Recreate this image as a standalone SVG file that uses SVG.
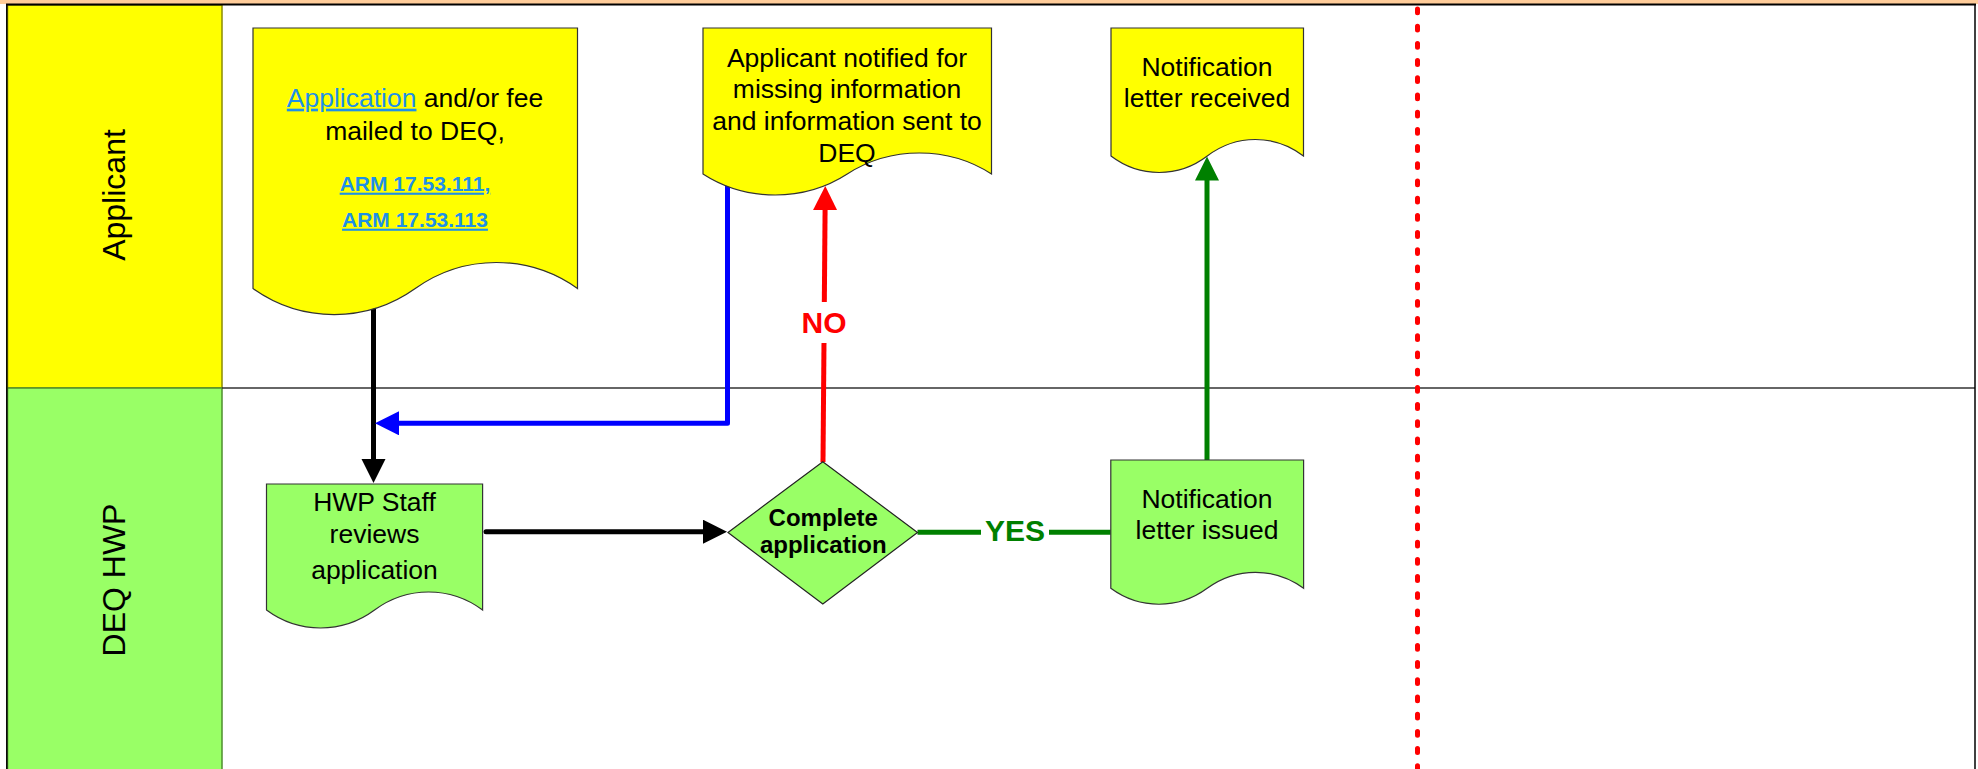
<svg xmlns="http://www.w3.org/2000/svg" width="1978" height="769" viewBox="0 0 1978 769">
<style>
.t{font-family:"Liberation Sans",Arial,sans-serif;font-size:26.5px;fill:#000;text-anchor:middle}
.lane{font-size:32px}
.link{fill:#1E90E8;text-decoration:underline}
.arm{font-weight:bold;font-size:21px}
.dia{font-weight:bold;font-size:24px}
.lbl{font-weight:bold;font-size:30px}
.doc{stroke:#333;stroke-width:1.2}
.yel{fill:#FFFF00}
.grn{fill:#99FF66}
.con{fill:none;stroke-width:5;stroke-linejoin:round}
</style>
<defs>
<marker id="ak" markerUnits="userSpaceOnUse" markerWidth="26" markerHeight="26" refX="2" refY="12" orient="auto"><path d="M0,0 L24,12 L0,24 Z" fill="#000"/></marker>
<marker id="ab" markerUnits="userSpaceOnUse" markerWidth="26" markerHeight="26" refX="2" refY="12" orient="auto"><path d="M0,0 L24,12 L0,24 Z" fill="#0000FF"/></marker>
<marker id="ar" markerUnits="userSpaceOnUse" markerWidth="26" markerHeight="26" refX="2" refY="12" orient="auto"><path d="M0,0 L24,12 L0,24 Z" fill="#FF0000"/></marker>
<marker id="ag" markerUnits="userSpaceOnUse" markerWidth="26" markerHeight="26" refX="2" refY="12" orient="auto"><path d="M0,0 L24,12 L0,24 Z" fill="#008000"/></marker>
</defs>
<rect width="1978" height="769" fill="#fff"/>
<g id="lanes">
<rect x="0" y="0" width="1978" height="4" fill="#FFCC99"/>
<rect x="7.5" y="5" width="214.5" height="383" fill="#FFFF00" stroke="#8C8C00" stroke-width="1.5"/>
<rect x="7.5" y="388" width="214.5" height="400" fill="#99FF66" stroke="#4E8F2E" stroke-width="1.5"/>
<line x1="222" y1="388" x2="1975" y2="388" stroke="#333" stroke-width="1.5"/>
<line x1="6" y1="4.5" x2="1976" y2="4.5" stroke="#000" stroke-width="1.8"/>
<line x1="6.8" y1="4" x2="6.8" y2="769" stroke="#000" stroke-width="1.5"/>
<line x1="1975" y1="4" x2="1975" y2="769" stroke="#000" stroke-width="1.5"/>
<line x1="1417.5" y1="9" x2="1417.5" y2="769" stroke="#FF0000" stroke-width="5" stroke-linecap="round" stroke-dasharray="3.8 13.4"/>
<text class="t lane" transform="translate(125,195) rotate(-90)">Applicant</text>
<text class="t lane" transform="translate(125,580) rotate(-90)">DEQ HWP</text>
</g>
<g id="connectors">
<path class="con" stroke="#000" d="M373.5,300 V461" marker-end="url(#ak)"/>
<path class="con" stroke="#0000FF" d="M727.5,180 V423.3 H397" marker-end="url(#ab)"/>
<path class="con" stroke="#000" stroke-linecap="round" d="M486,531.7 H705" marker-end="url(#ak)"/>
<path class="con" stroke="#FF0000" d="M823,462 L825.1,208" marker-end="url(#ar)"/>
<path class="con" stroke="#008000" d="M1207,460 V178.5" marker-end="url(#ag)"/>
<path class="con" stroke="#008000" d="M917.5,532.3 H1110.8"/>
<rect x="802" y="302" width="44" height="41" fill="#fff"/>
<text class="t lbl" x="824" y="332.7" style="fill:#FF0000">NO</text>
<rect x="981" y="515" width="68" height="33" fill="#fff"/>
<text class="t lbl" x="1015" y="541" style="fill:#008000">YES</text>
</g>
<g id="n-application">
<path class="doc yel" d="M253,28 H577.5 V288.5 C528.8,253.8 463.9,253.8 415.25,288.5 C366.6,323.2 301.7,323.2 253,288.5 Z"/>
<text class="t" x="415" y="106.7"><tspan class="link">Application</tspan> and/or fee</text>
<text class="t" x="415" y="140">mailed to DEQ,</text>
<text class="t arm link" x="415" y="190.7">ARM 17.53.111,</text>
<text class="t arm link" x="415" y="226.7">ARM 17.53.113</text>
</g>
<g id="n-notified">
<path class="doc yel" d="M703,28 H991.5 V174 C948.2,146 890.5,146 847.25,174 C804,202 746.3,202 703,174 Z"/>
<text class="t" x="847" y="66.5">Applicant notified for</text>
<text class="t" x="847" y="98">missing information</text>
<text class="t" x="847" y="130">and information sent to</text>
<text class="t" x="847" y="161.7">DEQ</text>
</g>
<g id="n-received">
<path class="doc yel" d="M1111,28 H1303.5 V156 C1274.6,134 1236.1,134 1207.25,156 C1178.4,178 1139.9,178 1111,156 Z"/>
<text class="t" x="1207" y="76">Notification</text>
<text class="t" x="1207" y="107.3">letter received</text>
</g>
<g id="n-review">
<path class="doc grn" d="M266.5,484 H482.6 V610 C450.2,586 407,586 374.55,610 C342.1,634 298.9,634 266.5,610 Z"/>
<text class="t" x="374.5" y="510.5">HWP Staff</text>
<text class="t" x="374.5" y="543">reviews</text>
<text class="t" x="374.5" y="579">application</text>
</g>
<g id="n-decision">
<path class="doc grn" d="M728,532.5 L822.8,461.7 L917.5,532.5 L822.8,604 Z" style="stroke:#222"/>
<text class="t dia" x="823.3" y="526">Complete</text>
<text class="t dia" x="823.3" y="553.3">application</text>
</g>
<g id="n-issued">
<path class="doc grn" d="M1110.8,460 H1303.6 V588.3 C1274.7,567 1236.1,567 1207.2,588.3 C1178.3,609.6 1139.7,609.6 1110.8,588.3 Z"/>
<text class="t" x="1207" y="507.7">Notification</text>
<text class="t" x="1207" y="539.3">letter issued</text>
</g>
</svg>
